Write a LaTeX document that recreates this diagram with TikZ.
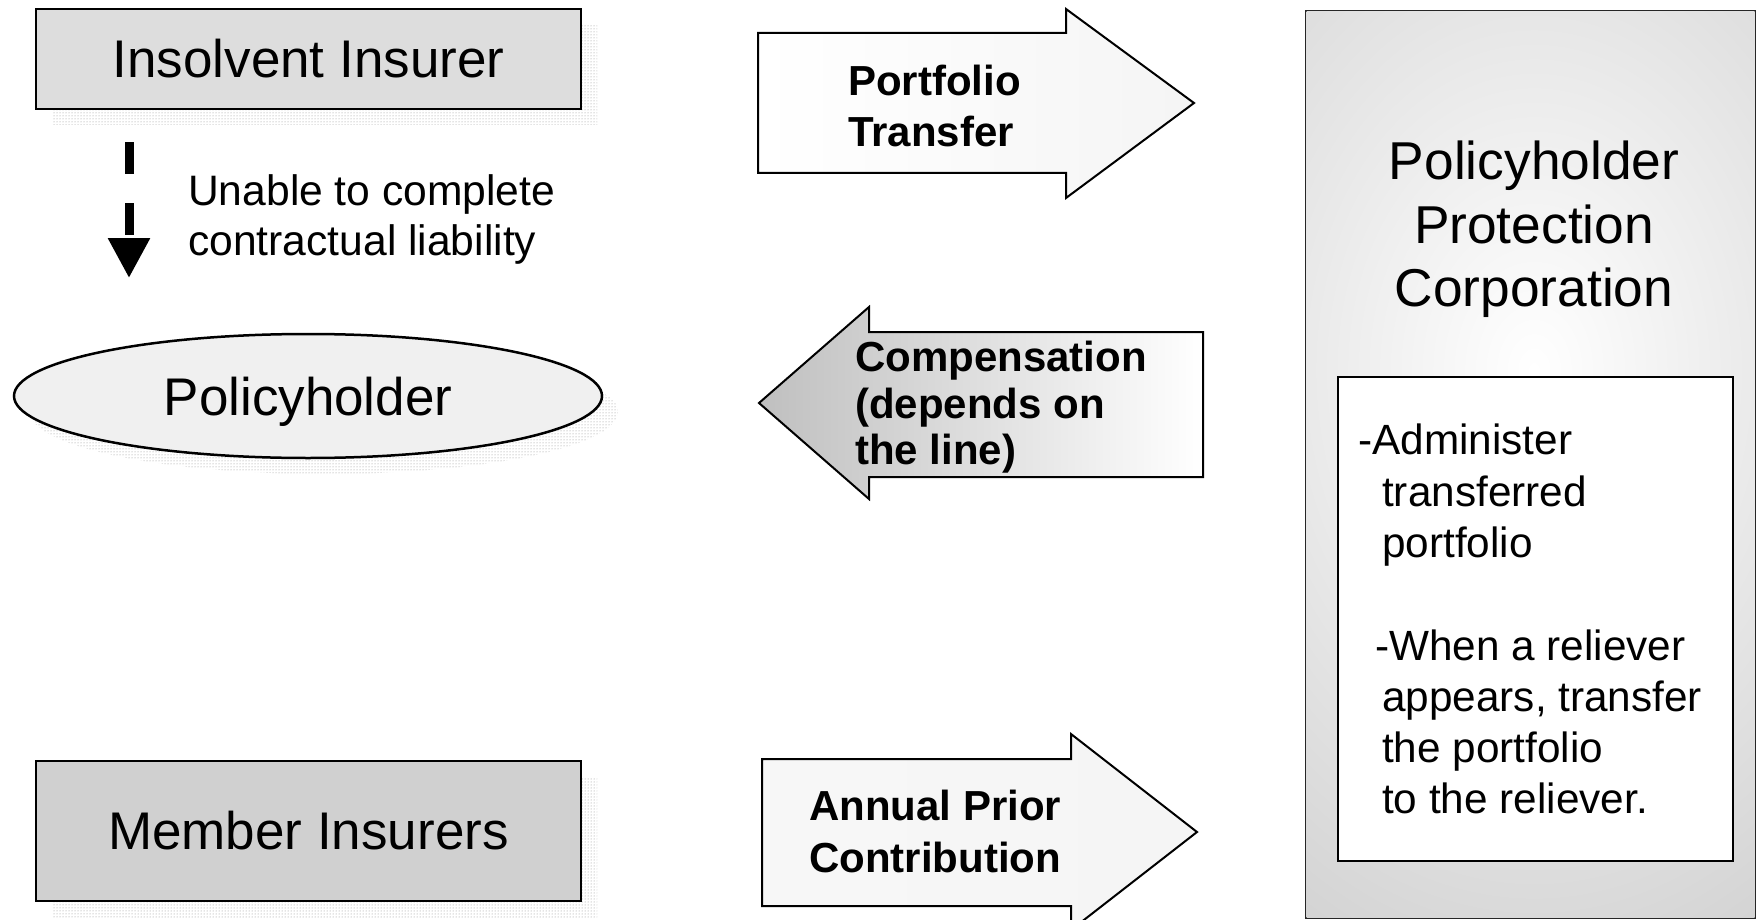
\documentclass[tikz,border=0pt]{standalone}
\usepackage{fontspec}
\setmainfont{Liberation Sans}
\usetikzlibrary{patterns,arrows.meta,shapes.geometric,shadows}
\definecolor{insgray}{RGB}{221,221,221}
\definecolor{memgray}{RGB}{208,208,208}
\definecolor{ellfill}{RGB}{240,240,240}
\definecolor{ppcgray}{RGB}{208,208,208}
\tikzset{
  dotshadow/.style={general shadow={shadow xshift=16pt, shadow yshift=-16pt, pattern=dots, pattern color=gray!90}},
  entbox/.style={draw=black, line width=2.5pt, rectangle, minimum width=545pt, minimum height=100pt, inner sep=0pt, font=\fontsize{53}{63}\selectfont, dotshadow},
  flowarrow/.style={draw=black, line width=2pt, line join=miter},
  arrowlabel/.style={anchor=north west, align=left, inner sep=0pt, font=\bfseries\fontsize{42}{51}\selectfont},
  plaintext/.style={anchor=north west, align=left, inner sep=0pt, font=\fontsize{42.6}{50}\selectfont},
}
\begin{document}
\begin{tikzpicture}[x=1pt,y=-1pt]
\useasboundingbox (0,0) rectangle (1758,920);

% left column
\node[entbox, fill=insgray] (ins) at (308.5,59) {Insolvent Insurer};
\node[entbox, fill=memgray, minimum height=140pt] (mem) at (308.5,831) {Member Insurers};
\node[ellipse, draw=black, line width=2.5pt, fill=ellfill, minimum width=588pt, minimum height=124pt, inner sep=0pt, text depth=0pt, font=\fontsize{53}{63}\selectfont, dotshadow] (ph) at (308,396) {Policyholder};

\coordinate (dashend) at (129,278);
\draw[line width=9pt, dash pattern=on 32pt off 29pt, -{Triangle[length=40pt,width=40pt]}, shorten <=32pt] (ins.south -| dashend) -- (dashend);
\node[plaintext] (unable) at (188,174) {Unable to complete\\contractual liability};

% middle arrows
\draw[flowarrow, left color=white, right color=black!4] (758,33) -- (1066,33) -- (1066,9) -- (1194,103) -- (1066,198) -- (1066,173) -- (758,173) -- cycle;
\draw[flowarrow, left color=black!25, right color=white] (759,403) -- (869,307) -- (869,332) -- (1203,332) -- (1203,477) -- (869,477) -- (869,499) -- cycle;
\draw[flowarrow, left color=black!3, right color=black!4] (762,759) -- (1071,759) -- (1071,734) -- (1197,832) -- (1071,930) -- (1071,906) -- (762,906) -- cycle;

\node[arrowlabel] (pt) at (848,65) {Portfolio\\Transfer};
\node[arrowlabel, font=\bfseries\fontsize{42}{46.5}\selectfont] (comp) at (855,341) {Compensation\\(depends on\\the line)};
\node[arrowlabel, font=\bfseries\fontsize{42}{52}\selectfont] (apc) at (809,790) {Annual Prior\\Contribution};

% right box
\node[draw=black!85, line width=2pt, fill=ppcgray, minimum width=449pt, minimum height=907pt, inner sep=0pt] (ppc) at (1530.5,464.5) {};
\begin{scope}
  \clip ([xshift=1.5pt,yshift=1.5pt]ppc.south west) rectangle ([xshift=-1.5pt,yshift=-1.5pt]ppc.north east);
  \shade[inner color=white, outer color=ppcgray] (1534,370) ellipse [x radius=500pt, y radius=680pt];
\end{scope}
\node[draw=black, line width=2pt, fill=white, minimum width=395pt, minimum height=484pt, inner sep=0pt] (inner) at (1535.5,619) {};
\node[anchor=north, align=center, inner sep=0pt, font=\fontsize{53.3}{63.5}\selectfont] (ppct) at (1534,141) {Policyholder\\Protection\\Corporation};
\node[anchor=north west, align=left, inner sep=0pt, font=\fontsize{42.3}{51.3}\selectfont] (duties) at (1358,424) {-Administer\\\hspace*{24pt}transferred\\\hspace*{24pt}portfolio\\[51.3pt]\hspace*{17pt}-When a reliever\\\hspace*{24pt}appears, transfer\\\hspace*{24pt}the portfolio\\\hspace*{24pt}to the reliever.};
\end{tikzpicture}
\end{document}
